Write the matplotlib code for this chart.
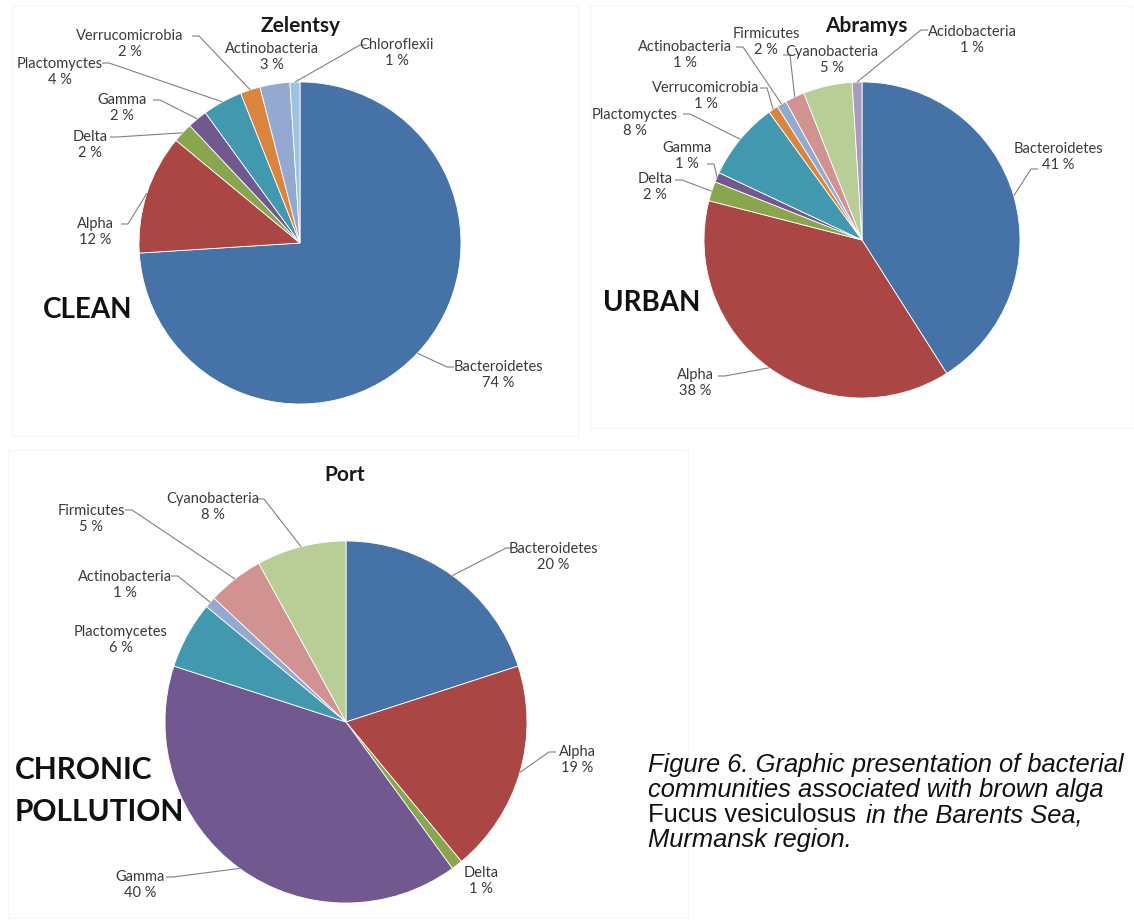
import numpy as np
import matplotlib.pyplot as plt

W, H = 1134, 924

# ---- data -------------------------------------------------------------
zel_labels = ['Bacteroidetes', 'Alpha', 'Delta', 'Gamma', 'Plactomyctes',
              'Verrucomicrobia', 'Actinobacteria', 'Chloroflexii']
zel_values = [74, 12, 2, 2, 4, 2, 3, 1]

abr_labels = ['Bacteroidetes', 'Alpha', 'Delta', 'Gamma', 'Plactomyctes',
              'Verrucomicrobia', 'Actinobacteria', 'Firmicutes',
              'Cyanobacteria', 'Acidobacteria']
abr_values = [41, 38, 2, 1, 8, 1, 1, 2, 5, 1]

port_labels = ['Bacteroidetes', 'Alpha', 'Delta', 'Gamma', 'Plactomycetes',
               'Actinobacteria', 'Firmicutes', 'Cyanobacteria']
port_values = [20, 19, 1, 40, 6, 1, 5, 8]

# excel 2007 style colours
blue, red, green, purple = '#4572A7', '#AA4643', '#89A54E', '#71588F'
teal, orange, ltblue = '#4198AF', '#DB843D', '#93A9CF'
pink, ltgreen, lavender, skyblue = '#D19392', '#B9CD96', '#A99BBD', '#9DC3E0'

zel_colors = [blue, red, green, purple, teal, orange, ltblue, skyblue]
abr_colors = [blue, red, green, purple, teal, orange, ltblue, pink, ltgreen, lavender]
port_colors = [blue, red, green, purple, teal, ltblue, pink, ltgreen]

# ---- layout (image pixel coords, y down) -----------------------------
# label centre, and where the leader line leaves the label (None = no line)
zel_layout = {
    'Bacteroidetes': ((498, 375), (454, 367)),
    'Alpha': ((95, 232), (121, 224)),
    'Delta': ((90, 145), (110, 137)),
    'Gamma': ((122, 108), (153, 100)),
    'Plactomyctes': ((60, 72), (102, 63)),
    'Verrucomicrobia': ((130, 44), (192, 36)),
    'Actinobacteria': ((272, 57), None),
    'Chloroflexii': ((397, 53), (367, 45)),
}
abr_layout = {
    'Bacteroidetes': ((1058, 157), (1038, 169)),
    'Alpha': ((695, 383), (718, 376)),
    'Delta': ((655, 187), (675, 180)),
    'Gamma': ((687, 156), (707, 164)),
    'Plactomyctes': ((635, 123), (683, 114)),
    'Verrucomicrobia': ((706, 96), (760, 88)),
    'Actinobacteria': ((685, 55), (736, 47)),
    'Firmicutes': ((766, 42), (783, 55)),
    'Cyanobacteria': ((832, 60), None),
    'Acidobacteria': ((972, 40), (928, 30)),
}
port_layout = {
    'Bacteroidetes': ((553, 557), (513, 548)),
    'Alpha': ((577, 760), (556, 752)),
    'Delta': ((481, 881), None),
    'Gamma': ((140, 885), (166, 877)),
    'Plactomycetes': ((121, 640), None),
    'Actinobacteria': ((125, 585), (171, 576)),
    'Firmicutes': ((91, 519), (125, 510)),
    'Cyanobacteria': ((213, 507), (257, 499)),
}

plt.rcParams['font.family'] = ['Lato', 'DejaVu Sans']

fig = plt.figure(figsize=(W / 100, H / 100), dpi=100)
ax = fig.add_axes([0, 0, 1, 1])


def draw_pie(values, labels, colors, center, radius, layout):
    cx, cy = center[0], H - center[1]
    ax.pie(values, colors=colors, startangle=90, counterclock=False,
           center=(cx, cy), radius=radius, frame=True,
           wedgeprops=dict(edgecolor='white', linewidth=0.6))
    total = float(sum(values))
    cum = np.cumsum([0] + list(values))
    for i, lab in enumerate(labels):
        mid = (cum[i] + values[i] / 2.0) / total
        ang = np.deg2rad(90 - 360 * mid)
        px = cx + radius * np.cos(ang)
        py = cy + radius * np.sin(ang)
        (tx, ty), anchor = layout[lab]
        ax.text(tx, H - ty, '%s\n%d %%' % (lab, values[i]), ha='center',
                va='center', fontsize=10.5, color='#3a3a3a', linespacing=1.2)
        if anchor is not None:
            ax_, ay_ = anchor[0], H - anchor[1]
            dx = -7 if px < ax_ else 7
            ax.plot([ax_, ax_ + dx, px], [ay_, ay_, py], color='#808080',
                    lw=0.8, solid_capstyle='butt')


draw_pie(zel_values, zel_labels, zel_colors, (300, 243), 161, zel_layout)
draw_pie(abr_values, abr_labels, abr_colors, (862, 240), 158, abr_layout)
draw_pie(port_values, port_labels, port_colors, (346, 722), 181, port_layout)

# titles
title_kw = dict(ha='center', va='center', fontsize=15, fontweight='bold', color='#1a1a1a')
ax.text(301, H - 26, 'Zelentsy', **title_kw)
ax.text(866, H - 26, 'Abramys', **title_kw)
ax.text(345, H - 475, 'Port', **title_kw)

# site types
site_kw = dict(ha='left', va='center', fontweight='bold', color='#111111')
ax.text(43, H - 310, 'CLEAN', fontsize=20, **site_kw)
ax.text(603, H - 303, 'URBAN', fontsize=20, **site_kw)
ax.text(15, H - 770, 'CHRONIC', fontsize=21.5, **site_kw)
ax.text(15, H - 812, 'POLLUTION', fontsize=21.5, **site_kw)

# faint panel frames
for x0, y0, x1, y1 in [(12, 6, 578, 436), (590, 6, 1134, 428), (8, 450, 688, 918)]:
    ax.plot([x0, x1, x1, x0, x0], [H - y0, H - y0, H - y1, H - y1, H - y0],
            color='#f6f6f6', lw=1)

# caption
cap = dict(fontsize=18.4, family='Liberation Sans', color='#111111', va='center')
ax.text(648, H - 765, 'Figure 6. Graphic presentation of bacterial', style='italic', **cap)
ax.text(648, H - 790, 'communities associated with brown alga', style='italic', **cap)
t = ax.text(648, H - 815, 'Fucus vesiculosus ', **cap)
ax.text(648, H - 840, 'Murmansk region.', style='italic', **cap)

ax.set_xlim(0, W)
ax.set_ylim(0, H)
ax.set_aspect('auto')
ax.axis('off')

r = fig.canvas.get_renderer()
bb = t.get_window_extent(renderer=r)
ax.text(bb.x1 + 3, H - 815, 'in the Barents Sea,', style='italic', **cap)

fig.savefig('out.png', dpi=100, facecolor='white')
